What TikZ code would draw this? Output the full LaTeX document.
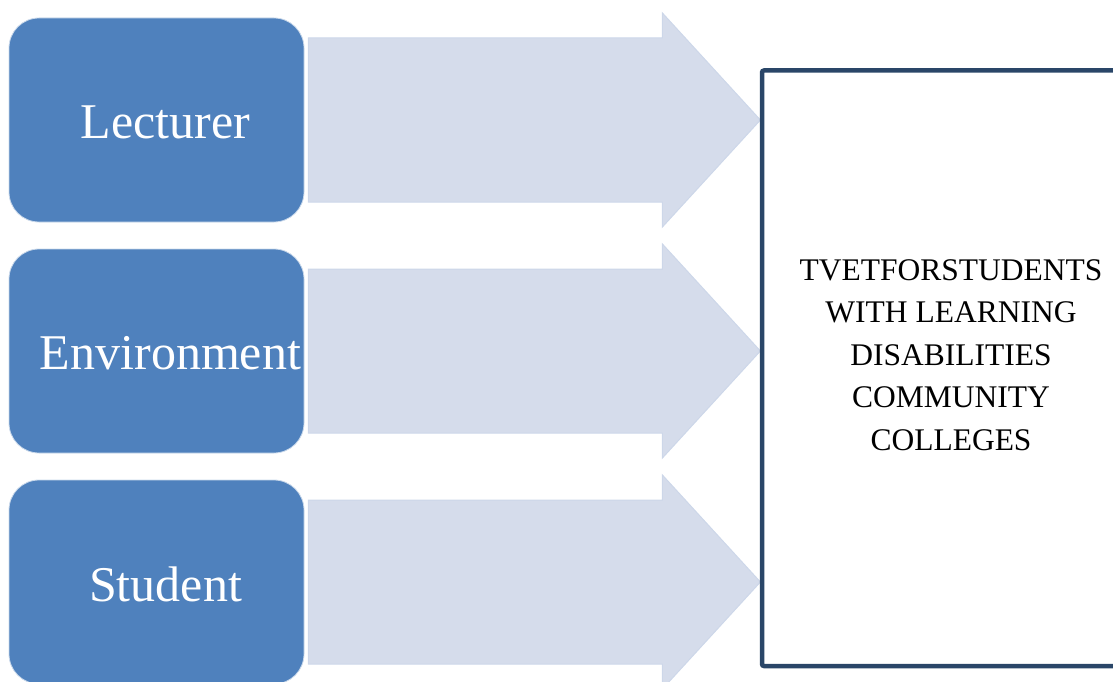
\documentclass[tikz,border=0pt]{standalone}
\usepackage{fontspec}
\setmainfont{Liberation Serif}
\usetikzlibrary{positioning}
\definecolor{boxblue}{HTML}{4F81BD}
\definecolor{arrowfill}{HTML}{D5DCEB}
\definecolor{arrowline}{HTML}{CDD7E9}
\definecolor{frameblue}{HTML}{2A4668}

\begin{document}
\begin{tikzpicture}[x=1pt,y=-1pt,
  factor/.style={rectangle,rounded corners=30pt,fill=boxblue,draw=white!70!boxblue,line width=0.8pt,
    minimum width=295pt,minimum height=204pt,inner sep=0pt},
  factorlabel/.style={text=white,font=\fontsize{50}{60}\selectfont,inner sep=0pt},
  bigarrow/.style={fill=arrowfill,draw=arrowline,line width=1pt,line join=miter},
  goalbox/.style={draw=frameblue,line width=4.5pt,rounded corners=2pt,minimum width=378pt,
    minimum height=595.5pt,inner sep=0pt},
  goallabel/.style={align=center,font=\fontsize{31.5}{42.5}\selectfont,inner sep=0pt}]
\useasboundingbox (0,0) rectangle (1113,682);
\clip (0,0) rectangle (1113,682);
% factors
\node[factor] (lect) at (156.5,120) {};
\node[factor] (env) at (156.5,351) {};
\node[factor] (stud) at (156.5,582) {};
\node[factorlabel] at ([xshift=9pt,yshift=-2pt]lect.center) {Lecturer};
\node[factorlabel] at ([xshift=14pt,yshift=-2pt]env.center) {Environment};
\node[factorlabel] at ([xshift=9pt,yshift=-2pt]stud.center) {Student};
% block arrows
\foreach \n in {lect,env,stud} {
  \draw[bigarrow,shift={(\n.east)}] (4,-82) -- (358,-82) -- (358,-107) -- (456,0)
    -- (358,107) -- (358,82) -- (4,82) -- cycle;
}
% target
\node[goalbox] (goal) at (951,368.25) {};
\node[goallabel] (goaltext) at (951,355) {TVETFORSTUDENTS\\WITH LEARNING\\DISABILITIES\\COMMUNITY\\COLLEGES};
\end{tikzpicture}
\end{document}
